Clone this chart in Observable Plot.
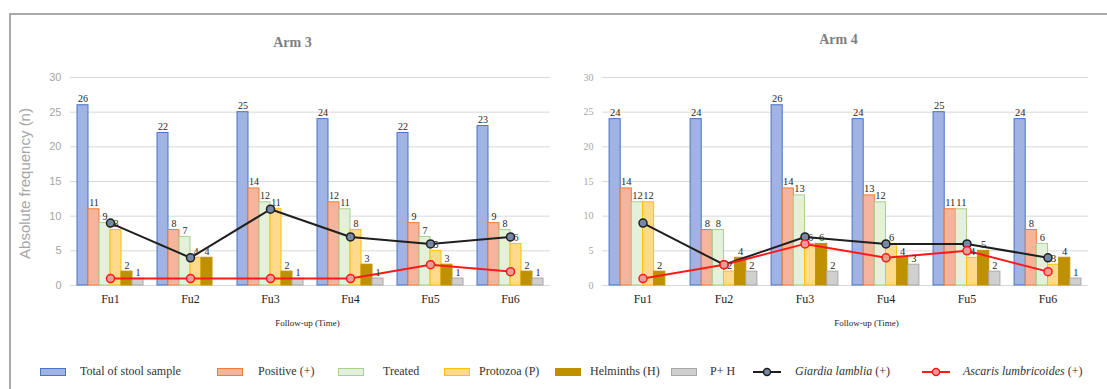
<!DOCTYPE html>
<html>
<head>
<meta charset="utf-8">
<script src="https://cdn.jsdelivr.net/npm/d3@7"></script>
<script src="https://cdn.jsdelivr.net/npm/@observablehq/plot@0.6"></script>
<style>
  html, body { margin: 0; padding: 0; background: #fff; }
  #wrap { position: relative; width: 1107px; height: 389px; overflow: hidden; background: #fff; }
  #frame { position: absolute; left: 9px; top: 13px; width: 1200px; height: 500px;
           border-left: 2px solid #a9a9a9; border-top: 2px solid #a9a9a9; pointer-events: none; z-index: 5; }
  .panel { position: absolute; top: 0; }
  .panel svg { background: transparent !important; overflow: visible; }
  #left [aria-label^="y-axis"] text { font-family: "Liberation Sans", sans-serif; font-size: 11px; fill: #a6a6a6; }
  #right [aria-label^="y-axis"] text { font-family: "Liberation Serif", serif; font-size: 10px; fill: #a6a6a6; }
  [aria-label^="x-axis"] text { font-family: "Liberation Serif", serif; font-size: 12px; fill: #262626; }
  .leg { position: absolute; font-family: "Liberation Serif", serif; font-size: 12px; color: #333; white-space: nowrap; line-height: 14px; }
  .sw { position: absolute; width: 24px; height: 6px; }
</style>
</head>
<body>
<div id="wrap">
  <div id="left" class="panel" style="left:0px"></div>
  <div id="right" class="panel" style="left:560px"></div>
  <div id="legend"></div>
  <div id="frame"></div>
</div>
<script>
// ---- Data ----
const fu = ["Fu1", "Fu2", "Fu3", "Fu4", "Fu5", "Fu6"];
const yTicks = [0, 5, 10, 15, 20, 25, 30];

// Arm 3
const arm3Total     = [26, 22, 25, 24, 22, 23];
const arm3Positive  = [11, 8, 14, 12, 9, 9];
const arm3Treated   = [9, 7, 12, 11, 7, 8];
const arm3Protozoa  = [8, 4, 11, 8, 5, 6];
const arm3Helminths = [2, 4, 2, 3, 3, 2];
const arm3PH        = [1, 0, 1, 1, 1, 1];
const arm3Giardia   = [9, 4, 11, 7, 6, 7];
const arm3Ascaris   = [1, 1, 1, 1, 3, 2];

// Arm 4
const arm4Total     = [24, 24, 26, 24, 25, 24];
const arm4Positive  = [14, 8, 14, 13, 11, 8];
const arm4Treated   = [12, 8, 13, 12, 11, 6];
const arm4Protozoa  = [12, 2, 6, 6, 4, 3];
const arm4Helminths = [2, 4, 6, 4, 5, 4];
const arm4PH        = [0, 2, 2, 3, 2, 1];
const arm4Giardia   = [9, 3, 7, 6, 6, 4];
const arm4Ascaris   = [1, 3, 6, 4, 5, 2];

const seriesNames = ["Total of stool sample", "Positive (+)", "Treated", "Protozoa (P)", "Helminths (H)", "P+ H"];
const lineNames = ["Giardia lamblia", "Ascaris lumbricoides"];

// ---- Styles ----
const barStyles = [
  {key: "total",     fill: "#a0b3e2", stroke: "#4a74c6"},
  {key: "positive",  fill: "#f5b59c", stroke: "#ee7f3a"},
  {key: "treated",   fill: "#e3f0da", stroke: "#a9d18e"},
  {key: "protozoa",  fill: "#ffd98c", stroke: "#ffc000"},
  {key: "helminths", fill: "#bf9000", stroke: "#bf9000"},
  {key: "ph",        fill: "#d0d0d0", stroke: "#a8a8a8"}
];
const giardiaStyle = {stroke: "#1f1f1f", fill: "#7788a6"};
const ascarisStyle = {stroke: "#ff1a1a", fill: "#f29a9a"};

function makeRows(total, positive, treated, protozoa, helminths, ph, giardia, ascaris) {
  return fu.map((f, j) => ({
    fu: f, total: total[j], positive: positive[j], treated: treated[j], protozoa: protozoa[j],
    helminths: helminths[j], ph: ph[j], giardia: giardia[j], ascaris: ascaris[j]
  }));
}

function panel(rows, opt) {
  const {width, height, ml, mr, mt, mb} = opt;
  const bw = (width - ml - mr) / fu.length;
  const slot = bw * 11 / 80;
  const g0 = (bw - slot * barStyles.length) / 2;
  const marks = [];
  marks.push(Plot.ruleY(yTicks, {stroke: "#d9d9d9", strokeWidth: 1}));
  barStyles.forEach((s, i) => {
    marks.push(Plot.barY(rows.filter(d => d[s.key] > 0), {
      x: "fu", y: s.key, fill: s.fill, stroke: s.stroke, strokeWidth: 1,
      insetLeft: g0 + i * slot, insetRight: bw - g0 - (i + 1) * slot
    }));
  });
  marks.push(Plot.line(rows, {x: "fu", y: "giardia", stroke: giardiaStyle.stroke, strokeWidth: 2}));
  marks.push(Plot.dot(rows, {x: "fu", y: "giardia", r: 4, fill: giardiaStyle.fill, stroke: giardiaStyle.stroke, strokeWidth: 1.5}));
  marks.push(Plot.line(rows, {x: "fu", y: "ascaris", stroke: ascarisStyle.stroke, strokeWidth: 2}));
  marks.push(Plot.dot(rows, {x: "fu", y: "ascaris", r: 4, fill: ascarisStyle.fill, stroke: ascarisStyle.stroke, strokeWidth: 1.5}));
  barStyles.forEach((s, i) => {
    marks.push(Plot.text(rows.filter(d => d[s.key] > 0), {
      x: "fu", y: s.key, text: d => String(d[s.key]),
      dx: g0 + (i + 0.5) * slot - bw / 2, dy: -3, lineAnchor: "bottom",
      fontFamily: "Liberation Serif", fontSize: opt.labelSize, fill: "#262626"
    }));
  });
  marks.push(Plot.text([opt.title], {
    text: d => d, frameAnchor: "top", textAnchor: "middle", lineAnchor: "middle",
    dx: opt.titleDx, dy: opt.titleDy,
    fontFamily: "Liberation Serif", fontWeight: "bold", fontSize: 14, fill: "#7f7f7f"
  }));
  marks.push(Plot.text(["Follow-up (Time)"], {
    text: d => d, frameAnchor: "bottom", textAnchor: "middle", lineAnchor: "middle",
    dx: opt.xTitleDx, dy: 38,
    fontFamily: "Liberation Serif", fontSize: 9, fill: "#262626"
  }));
  if (opt.yTitle) {
    marks.push(Plot.text([opt.yTitle], {
      text: d => d, frameAnchor: "left", textAnchor: "middle", lineAnchor: "middle",
      rotate: -90, dx: -45, dy: 2,
      fontFamily: "Liberation Sans", fontSize: 15, fill: "#a6a6a6"
    }));
  }
  return Plot.plot({
    width, height, marginLeft: ml, marginRight: mr, marginTop: mt, marginBottom: mb,
    style: {fontFamily: "Liberation Serif", background: "transparent", overflow: "visible"},
    x: {domain: fu, padding: 0, label: null, tickSize: 0, tickPadding: 9},
    y: {domain: [0, 30], ticks: yTicks, label: null, tickSize: 0, tickPadding: 9},
    marks
  });
}

const rows3 = makeRows(arm3Total, arm3Positive, arm3Treated, arm3Protozoa, arm3Helminths, arm3PH, arm3Giardia, arm3Ascaris);
const rows4 = makeRows(arm4Total, arm4Positive, arm4Treated, arm4Protozoa, arm4Helminths, arm4PH, arm4Giardia, arm4Ascaris);

document.getElementById("left").appendChild(panel(rows3, {
  width: 560, height: 345, ml: 70, mr: 10, mt: 77, mb: 60,
  title: "Arm 3", titleDx: -18, titleDy: -35, xTitleDx: -3, labelSize: 10,
  yTitle: "Absolute frequency (n)"
}));
document.getElementById("right").appendChild(panel(rows4, {
  width: 547, height: 345, ml: 42, mr: 19, mt: 77, mb: 60,
  title: "Arm 4", titleDx: -7, titleDy: -38, xTitleDx: 21, labelSize: 10.5
}));

// ---- Legend (HTML) ----
const legend = document.getElementById("legend");
const legPos = [
  {sw: 40, tx: 80}, {sw: 217, tx: 258}, {sw: 338, tx: 383}, {sw: 444, tx: 479},
  {sw: 555, tx: 590}, {sw: 671, tx: 710}
];
seriesNames.forEach((name, i) => {
  const s = barStyles[i];
  const sw = document.createElement("div");
  sw.className = "sw";
  sw.style.cssText = `left:${legPos[i].sw}px; top:368px; background:${s.fill}; border:1px solid ${s.stroke};`;
  legend.appendChild(sw);
  const t = document.createElement("div");
  t.className = "leg";
  t.style.cssText = `left:${legPos[i].tx}px; top:364px;`;
  t.textContent = name;
  legend.appendChild(t);
});
const linePos = [{sw: 753, tx: 795}, {sw: 922, tx: 963}];
[giardiaStyle, ascarisStyle].forEach((s, i) => {
  const svgNS = "http://www.w3.org/2000/svg";
  const svg = document.createElementNS(svgNS, "svg");
  svg.setAttribute("width", 28); svg.setAttribute("height", 10);
  svg.style.cssText = `position:absolute; left:${linePos[i].sw}px; top:367px;`;
  svg.innerHTML = `<line x1="0" y1="5" x2="28" y2="5" stroke="${s.stroke}" stroke-width="2"/>` +
    `<circle cx="14" cy="5" r="3.5" fill="${s.fill}" stroke="${s.stroke}" stroke-width="1.5"/>`;
  legend.appendChild(svg);
  const t = document.createElement("div");
  t.className = "leg";
  t.style.cssText = `left:${linePos[i].tx}px; top:364px;`;
  t.innerHTML = `<i>${lineNames[i]}</i> (+)`;
  legend.appendChild(t);
});
</script>
</body>
</html>
